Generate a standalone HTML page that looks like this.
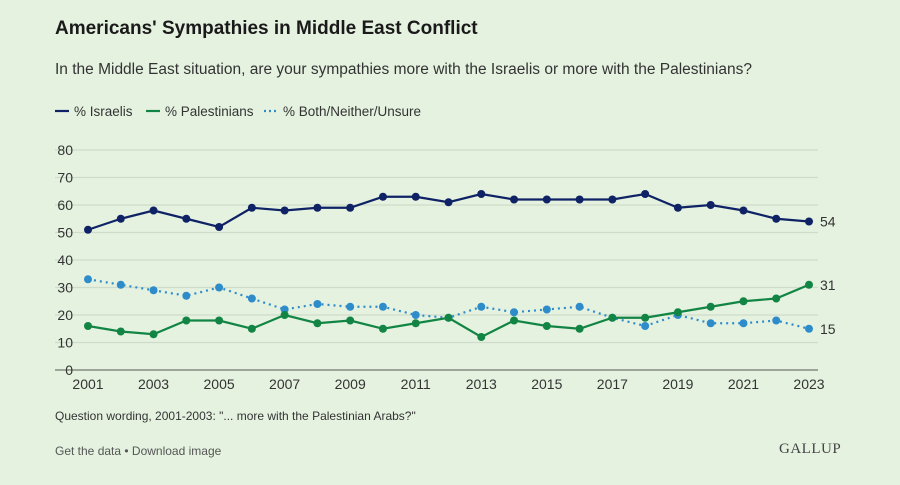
<!DOCTYPE html>
<html><head><meta charset="utf-8"><style>
body{margin:0;width:900px;height:485px;background:#e5f2e0;font-family:"Liberation Sans",sans-serif;overflow:hidden;position:relative}
.t{position:absolute;left:55px;top:18px;font-size:19px;font-weight:bold;color:#1a1a1a}
.s{position:absolute;left:55px;top:61px;font-size:15.5px;color:#333}
.n{position:absolute;left:55px;top:409px;font-size:12px;color:#333}
.f{position:absolute;left:55px;top:444px;font-size:12px;color:#555}
.g{position:absolute;left:779px;top:441px;font-family:"Liberation Serif",serif;font-size:15px;color:#444;letter-spacing:.5px}
svg{position:absolute;left:0;top:0}
</style></head><body>
<div class="t">Americans' Sympathies in Middle East Conflict</div>
<div class="s">In the Middle East situation, are your sympathies more with the Israelis or more with the Palestinians?</div>
<div class="n">Question wording, 2001-2003: "... more with the Palestinian Arabs?"</div>
<div class="f">Get the data • Download image</div>
<div class="g">GALLUP</div>
<svg id="c" width="900" height="485"></svg>
<script>
const years=[2001,2002,2003,2004,2005,2006,2007,2008,2009,2010,2011,2012,2013,2014,2015,2016,2017,2018,2019,2020,2021,2022,2023];
const israelis=[51,55,58,55,52,59,58,59,59,63,63,61,64,62,62,62,62,64,59,60,58,55,54];
const palestinians=[16,14,13,18,18,15,20,17,18,15,17,19,12,18,16,15,19,19,21,23,25,26,31];
const both=[33,31,29,27,30,26,22,24,23,23,20,19,23,21,22,23,19,16,20,17,17,18,15];
const yTicks=[0,10,20,30,40,50,60,70,80];
const xTicks=[2001,2003,2005,2007,2009,2011,2013,2015,2017,2019,2021,2023];
const NS='http://www.w3.org/2000/svg',svg=document.getElementById('c');
const x=v=>88+(v-2001)*(809-88)/22, y=v=>370-v*2.75;
function mk(t,a,p){const e=document.createElementNS(NS,t);for(const k in a)e.setAttribute(k,a[k]);(p||svg).appendChild(e);return e;}
yTicks.forEach(v=>{
 const l=mk('line',{x1:55,x2:818,y1:y(v),y2:y(v),stroke:v==0?'#555':'#cfdcc9','stroke-width':v==0?1:1.2});
 
 
 const t=mk('text',{x:73,y:y(v)+5,'text-anchor':'end','font-size':14,fill:'#333'});t.textContent=v;
 
 
});
xTicks.forEach(v=>{
 const t=mk('text',{x:x(v),y:389,'text-anchor':'middle','font-size':14,fill:'#333'});t.textContent=v;
 
 
});
const series=[[israelis,'#0e2265','','israelis'],[both,'#2e8ccb','2 4','both-neither-unsure'],[palestinians,'#128544','','palestinians']];
series.forEach(([d,c,dash,nm])=>{
 const g=mk('g',{});
 
 
 const p=mk('polyline',{points:d.map((v,i)=>x(years[i])+','+y(v)).join(' '),fill:'none',stroke:c,'stroke-width':2.2,'stroke-dasharray':dash},g);
 
 
 d.forEach((v,i)=>{const ci=mk('circle',{cx:x(years[i]),cy:y(v),r:4,fill:c},g);
  
  });
 const lb=mk('text',{x:820,y:y(d[d.length-1])+5,'font-size':14,fill:'#333'});lb.textContent=d[d.length-1];
 
 
});
const leg=[['% Israelis','#0e2265','',55],['% Palestinians','#128544','',146],['% Both/Neither/Unsure','#2e8ccb','2 3',264]];
leg.forEach(([t,c,dash,lx])=>{
 const l=mk('line',{x1:lx,x2:lx+14,y1:111,y2:111,stroke:c,'stroke-width':2.2,'stroke-dasharray':dash});
 
 
 const tx=mk('text',{x:lx+19,y:116,'font-size':13.5,fill:'#333'});tx.textContent=t;
 
 
});
</script>
</body></html>
